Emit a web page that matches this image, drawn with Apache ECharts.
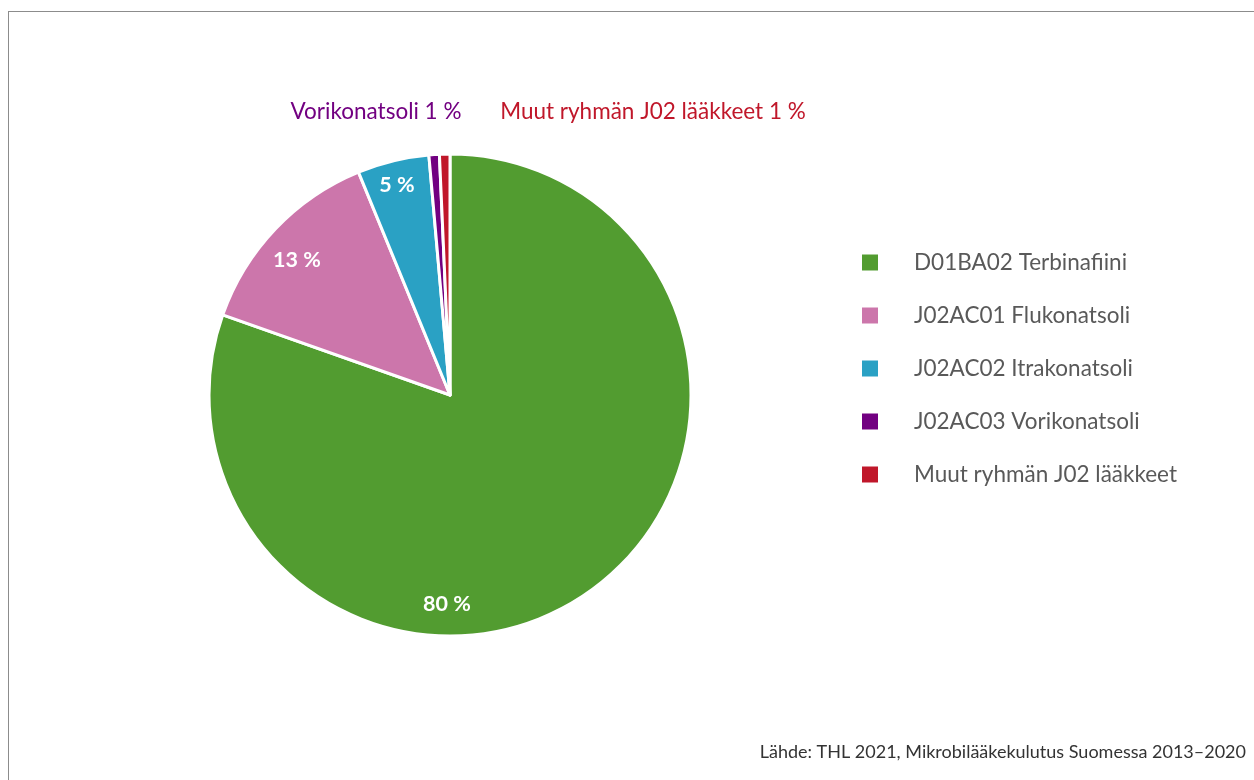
<!DOCTYPE html>
<html>
<head>
<meta charset="utf-8">
<script src="https://cdn.jsdelivr.net/npm/echarts@6/dist/echarts.min.js"></script>
<style>
    html, body { margin: 0; padding: 0; background: #fff; }
    #frame { position: absolute; left: 8px; top: 11px; width: 1300px; height: 800px; border-left: 1px solid #8c8c8c; border-top: 1px solid #8c8c8c; }
    #pieChart { position: absolute; left: 0; top: 0; width: 1254px; height: 780px; }
</style>
</head>
<body>
<div id="frame"></div>
<div id="pieChart"></div>
<script>
const categories = ['D01BA02 Terbinafiini', 'J02AC01 Flukonatsoli', 'J02AC02 Itrakonatsoli', 'J02AC03 Vorikonatsoli', 'Muut ryhmän J02 lääkkeet'];
const shares = [80.4, 13.4, 4.8, 0.7, 0.7];
const outerNames = ['', '', '', 'Vorikonatsoli', 'Muut ryhmän J02 lääkkeet'];
const colors = ['#529c30', '#cc76ab', '#2aa1c4', '#720081', '#c0172a'];

// label spots (Excel "best fit" style)
const labelSpots = [[447, 604], [297, 260], [397, 185], [376, 112], [653, 112]];

let pieChart = echarts.init(document.getElementById('pieChart'));
let pieData = [];
for (let i = 0; i < categories.length; i++) {
    let outside = i >= 3;
    pieData.push({
        name: categories[i],
        value: shares[i],
        itemStyle: { color: colors[i] },
        label: outside ? {
            position: 'outside',
            color: colors[i],
            fontWeight: 'normal',
            fontSize: 22.5,
            formatter: (p) => outerNames[p.dataIndex] + ' ' + Math.round(p.percent) + ' %'
        } : {
            position: 'inside',
            color: '#fff',
            fontWeight: 'bold',
            fontSize: 21.5,
            formatter: (p) => Math.round(p.percent) + ' %'
        },
        labelLine: { show: false }
    });
}

pieChart.setOption({
    animation: false,
    textStyle: { fontFamily: 'Lato, "Open Sans", sans-serif' },
    title: {
        text: 'Lähde: THL 2021, Mikrobilääkekulutus Suomessa 2013–2020',
        right: 3,
        bottom: 14,
        textStyle: { fontSize: 18, fontWeight: 'normal', color: '#333', fontFamily: 'Lato, sans-serif' }
    },
    legend: {
        orient: 'vertical',
        left: 855,
        top: 246,
        icon: 'rect',
        itemWidth: 18,
        itemHeight: 18,
        itemGap: 30,
        data: categories,
        selectedMode: false,
        textStyle: { fontSize: 22.5, color: '#595959', lineHeight: 22, padding: [0, 0, 0, 30] }
    },
    series: [
        {
            name: 'Mikrobilääkkeet',
            type: 'pie',
            center: [450, 395],
            radius: [0, 241],
            startAngle: 90,
            clockwise: true,
            avoidLabelOverlap: false,
            itemStyle: { borderColor: '#fff', borderWidth: 3 },
            labelLayout: (params) => {
                let s = labelSpots[params.dataIndex];
                return { x: s[0], y: s[1], align: 'center', verticalAlign: 'middle' };
            },
            emphasis: { disabled: true },
            data: pieData
        }
    ]
});
window.onresize = function () {
    pieChart.resize();
};
</script>
</body>
</html>
